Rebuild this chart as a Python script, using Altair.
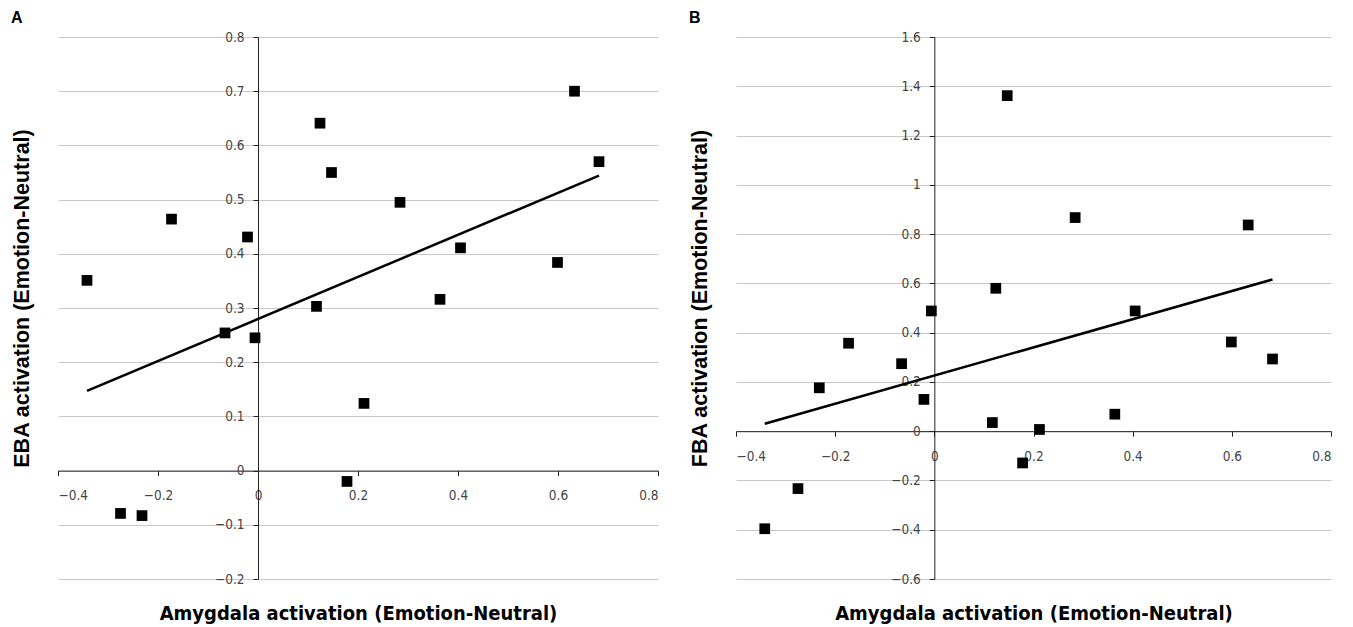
import altair as alt
import pandas as pd

# Amygdala activation (shared x for both panels)
amygdala = [-0.342, -0.275, -0.232, -0.173, -0.066, -0.021, -0.006, 0.117, 0.124,
            0.147, 0.178, 0.212, 0.284, 0.364, 0.405, 0.599, 0.633, 0.682]
# EBA activation (panel A)
eba = [0.351, -0.079, -0.083, 0.464, 0.254, 0.431, 0.245, 0.303, 0.641,
       0.550, -0.020, 0.124, 0.495, 0.316, 0.411, 0.384, 0.700, 0.570]
# FBA activation (panel B)
fba = [-0.396, -0.233, 0.176, 0.357, 0.274, 0.129, 0.488, 0.035, 0.580,
       1.362, -0.129, 0.007, 0.867, 0.069, 0.488, 0.362, 0.837, 0.293]

x_ticks = [-0.4, -0.2, 0, 0.2, 0.4, 0.6, 0.8]
eba_ticks = [-0.2, -0.1, 0, 0.1, 0.2, 0.3, 0.4, 0.5, 0.6, 0.7, 0.8]
fba_ticks = [-0.6, -0.4, -0.2, 0, 0.2, 0.4, 0.6, 0.8, 1.0, 1.2, 1.4, 1.6]

x_title = "Amygdala activation (Emotion-Neutral)"

NARROW = "Liberation Sans Narrow, Arial Narrow, DejaVu Sans Condensed, sans-serif"
SANS = "Liberation Sans, Arial, sans-serif"
XDOM = [-0.4, 0.8]


def panel(yvals, ydom, yticks, ytitle, letter, w, h=542):
    df = pd.DataFrame({"x": amygdala, "y": yvals})
    xs = alt.Scale(domain=XDOM, nice=False, zero=False)
    ys = alt.Scale(domain=ydom, nice=False, zero=False)
    x_off = -w * (0 - XDOM[0]) / (XDOM[1] - XDOM[0])
    y_off = -h * (0 - ydom[0]) / (ydom[1] - ydom[0])
    base = alt.Chart(df)
    pts = base.mark_square(size=115, color="black", opacity=1).encode(
        x=alt.X("x:Q", scale=xs, axis=alt.Axis(
            title=x_title, orient="bottom", labels=False, ticks=False, domain=False,
            grid=False, titlePadding=24, titleFont=NARROW, titleFontSize=20,
            titleFontWeight="bold", titleColor="black", values=x_ticks)),
        y=alt.Y("y:Q", scale=ys, axis=alt.Axis(
            title=ytitle, orient="left", labels=False, ticks=False, domain=False,
            grid=True, gridColor="#c8c8c8", gridWidth=1, values=yticks,
            titlePadding=25, titleFont=SANS, titleFontSize=21.5, titleY=h / 2 - 10,
            titleFontWeight="bold", titleColor="black")),
    )
    line = base.transform_regression("x", "y").mark_line(
        color="black", strokeWidth=2.5).encode(
        x=alt.X("x:Q", scale=xs, axis=alt.Axis(
            title=None, orient="bottom", offset=y_off, values=x_ticks, format="~g",
            grid=False, domainColor="#222", tickColor="#222", tickSize=5,
            labelFont=NARROW, labelFontSize=13.5, labelColor="#444", labelPadding=13)),
        y=alt.Y("y:Q", scale=ys, axis=alt.Axis(
            title=None, orient="left", offset=x_off, values=yticks, format="~g",
            grid=False, domainColor="#222", tickColor="#222", tickSize=5,
            labelFont=NARROW, labelFontSize=13.5, labelColor="#444", labelPadding=9)),
    )
    return alt.layer(pts, line).resolve_axis(x="independent", y="independent").properties(
        width=w, height=h,
        title=alt.TitleParams(letter, anchor="start", font=SANS, fontSize=16,
                              fontWeight="bold", color="black", offset=4))


chart_a = panel(eba, [-0.2, 0.8], eba_ticks, "EBA activation (Emotion-Neutral)", "A", 600)
chart_b = panel(fba, [-0.6, 1.6], fba_ticks, "FBA activation (Emotion-Neutral)", "B", 595)

chart = alt.hconcat(chart_a, chart_b, spacing=30).configure_view(stroke=None).properties(
    padding={"left": 3, "top": 2, "right": 5, "bottom": 5})

chart.save("out.html", embed_options={"renderer": "svg", "actions": False})
